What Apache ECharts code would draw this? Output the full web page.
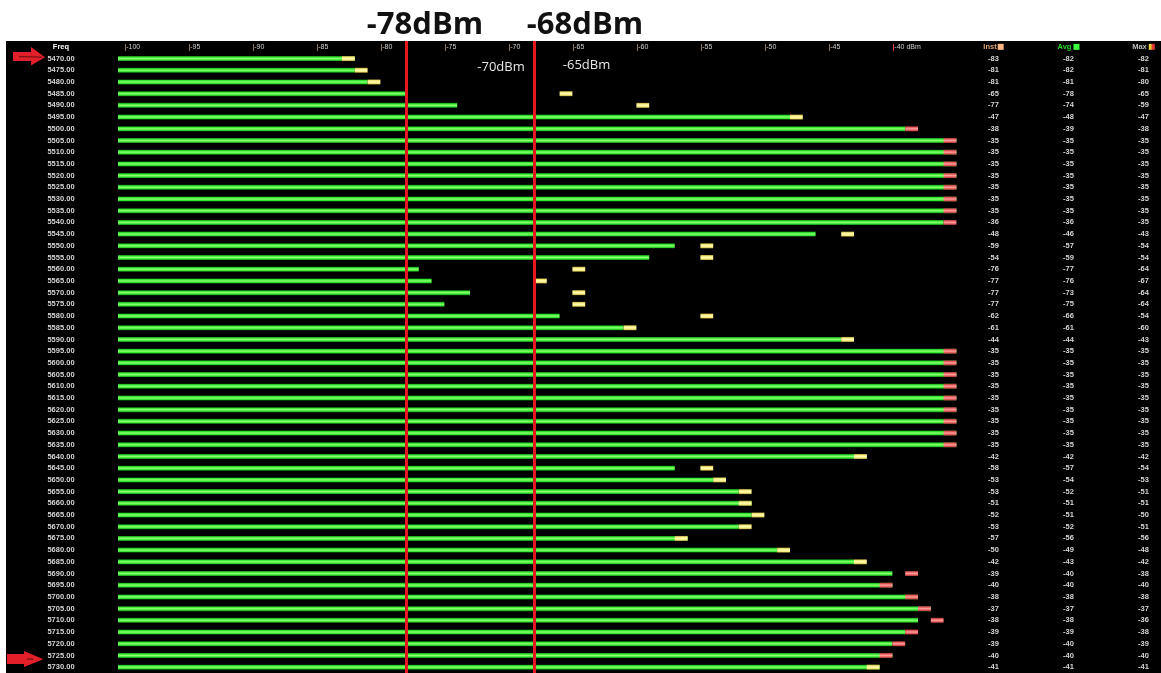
<!DOCTYPE html>
<html>
<head>
<meta charset="utf-8">
<script src="https://cdn.jsdelivr.net/npm/echarts@6/dist/echarts.min.js"></script>
<style>
  html, body { margin: 0; padding: 0; background: #ffffff; }
  #chart { width: 1161px; height: 673px; }
</style>
</head>
<body>
<div id="chart"></div>
<script>
// Channel frequencies (MHz), one row per channel
const FREQS = [
  '5470.00', '5475.00', '5480.00', '5485.00', '5490.00', '5495.00', '5500.00',
  '5505.00', '5510.00', '5515.00', '5520.00', '5525.00', '5530.00', '5535.00', '5540.00',
  '5545.00', '5550.00', '5555.00', '5560.00', '5565.00', '5570.00', '5575.00', '5580.00', '5585.00', '5590.00',
  '5595.00', '5600.00', '5605.00', '5610.00', '5615.00', '5620.00', '5625.00', '5630.00', '5635.00',
  '5640.00', '5645.00', '5650.00', '5655.00', '5660.00', '5665.00', '5670.00', '5675.00', '5680.00',
  '5685.00', '5690.00', '5695.00', '5700.00', '5705.00', '5710.00', '5715.00', '5720.00', '5725.00', '5730.00'
];

// Instantaneous level (dBm)
const INST = [
  -83, -81, -81, -65, -77, -47, -38,
  -35, -35, -35, -35, -35, -35, -35, -36,
  -48, -59, -54, -76, -77, -77, -77, -62, -61, -44,
  -35, -35, -35, -35, -35, -35, -35, -35, -35,
  -42, -58, -53, -53, -51, -52, -53, -57, -50,
  -42, -39, -40, -38, -37, -38, -39, -39, -40, -41
];

// Average level (dBm) – drawn as the green bar
const AVG = [
  -82, -82, -81, -78, -74, -48, -39,
  -35, -35, -35, -35, -35, -35, -35, -36,
  -46, -57, -59, -77, -76, -73, -75, -66, -61, -44,
  -35, -35, -35, -35, -35, -35, -35, -35, -35,
  -42, -57, -54, -52, -51, -51, -52, -56, -49,
  -43, -40, -40, -38, -37, -38, -39, -40, -40, -41
];

// Peak-hold level (dBm) – drawn as the short max marker
const MAX = [
  -82, -81, -80, -65, -59, -47, -38,
  -35, -35, -35, -35, -35, -35, -35, -35,
  -43, -54, -54, -64, -67, -64, -64, -54, -60, -43,
  -35, -35, -35, -35, -35, -35, -35, -35, -35,
  -42, -54, -53, -51, -51, -50, -51, -56, -48,
  -42, -38, -40, -38, -37, -36, -38, -39, -40, -41
];

// Level scale tick labels (dBm)
const X_TICKS = [-100, -95, -90, -85, -80, -75, -70, -65, -60, -55, -50, -45, -40];

// Threshold lines (dBm)
const THRESHOLDS = [-78, -68];

// Extra level notes written on the plot
const NOTES = ['-70dBm', '-65dBm'];

// ---- layout / style constants ----
const AXIS_MIN = -100.5;
const AXIS_MAX = -33.5;
const MARKER_SPAN = 1;       // width of the peak marker, dB
const HOT_LEVEL = -40;       // peaks at or above this are drawn red
const LABEL_FONT = 'Liberation Sans, Arial, sans-serif';
const THRESHOLD_LABEL_SHIFT = [[19, 3], [51, 3]];  // caption placement beside each line

const categories = ['Freq'].concat(FREQS);
const rows = FREQS.map((f, i) => [f, AVG[i], MAX[i]]);

const G = echarts.graphic;
const greenFill = new G.LinearGradient(0, 0, 0, 1, [
  { offset: 0, color: '#0f7412' },
  { offset: 0.2, color: '#2fe62f' },
  { offset: 0.5, color: '#8dff6e' },
  { offset: 0.8, color: '#2fe62f' },
  { offset: 1, color: '#0f7412' }
]);
const yellowFill = new G.LinearGradient(0, 0, 0, 1, [
  { offset: 0, color: '#a89436' },
  { offset: 0.22, color: '#f6ea7a' },
  { offset: 0.5, color: '#fffbb4' },
  { offset: 0.78, color: '#f6ea7a' },
  { offset: 1, color: '#a89436' }
]);
const redFill = new G.LinearGradient(0, 0, 0, 1, [
  { offset: 0, color: '#a03434' },
  { offset: 0.22, color: '#e85c5c' },
  { offset: 0.5, color: '#ff9e9e' },
  { offset: 0.78, color: '#e85c5c' },
  { offset: 1, color: '#a03434' }
]);

function renderRow(params, api) {
  const row = api.value(0);
  const avg = api.value(1);
  const max = api.value(2);
  const start = api.coord([AXIS_MIN, row]);
  const avgEnd = api.coord([avg, row]);
  const mk0 = api.coord([max - MARKER_SPAN, row]);
  const mk1 = api.coord([max, row]);
  const y = start[1];
  return {
    type: 'group',
    children: [
      {
        type: 'rect',
        shape: { x: start[0], y: y - 2.5, width: avgEnd[0] - start[0], height: 5 },
        style: { fill: greenFill }
      },
      {
        type: 'rect',
        shape: { x: mk0[0], y: y - 2.5, width: mk1[0] - mk0[0], height: 5 },
        style: { fill: max >= HOT_LEVEL ? redFill : yellowFill }
      }
    ]
  };
}

function tableAxis(title, values, margin, rich) {
  return {
    type: 'category',
    data: categories,
    inverse: true,
    position: 'right',
    axisLine: { show: false },
    axisTick: { show: false },
    splitLine: { show: false },
    axisLabel: {
      interval: 0,
      margin: margin,
      align: 'center',
      fontFamily: LABEL_FONT,
      fontSize: 7.5,
      fontWeight: 'bold',
      color: '#d6d6d6',
      formatter: (v, i) => (i === 0 ? title : String(values[i - 1])),
      rich: rich
    }
  };
}

const chart = echarts.init(document.getElementById('chart'), null, { renderer: 'canvas' });

chart.setOption({
  animation: false,
  backgroundColor: '#ffffff',
  textStyle: { fontFamily: LABEL_FONT },
  grid: { left: 118, right: 185.4, top: 41, bottom: -4.66 },
  xAxis: {
    type: 'value',
    position: 'top',
    min: AXIS_MIN,
    max: AXIS_MAX,
    axisLine: { show: false },
    axisTick: { show: false },
    splitLine: { show: false },
    axisLabel: {
      inside: true,
      margin: 6,
      align: 'left',
      verticalAlign: 'middle',
      customValues: X_TICKS,
      fontFamily: LABEL_FONT,
      fontSize: 7,
      color: '#cfcfcf',
      formatter: v => (v === -40 ? '{r||}{t|-40 dBm}' : '{b||}{t|' + v + '}'),
      rich: {
        b: { color: '#e6c3a0', fontSize: 7, fontFamily: LABEL_FONT },
        r: { color: '#ff4040', fontSize: 7, fontFamily: LABEL_FONT, fontWeight: 'bold' },
        t: { color: '#cfcfcf', fontSize: 7, fontFamily: LABEL_FONT }
      }
    }
  },
  yAxis: [
    {
      type: 'category',
      data: categories,
      inverse: true,
      axisLine: { show: false },
      axisTick: { show: false },
      splitLine: { show: false },
      axisLabel: {
        interval: 0,
        margin: 57,
        align: 'center',
        fontFamily: LABEL_FONT,
        fontSize: 7.5,
        fontWeight: 'bold',
        color: '#d6d6d6',
        formatter: (v, i) => (i === 0 ? '{h|' + v + '}' : v),
        rich: { h: { color: '#ffffff', fontSize: 7.5, fontWeight: 'bold', fontFamily: LABEL_FONT } }
      }
    },
    tableAxis('{h|Inst}{s| }', INST, 17.9, {
      h: { color: '#e0a574', fontSize: 7.5, fontWeight: 'bold', fontFamily: LABEL_FONT, padding: [0, 1, 0, 0] },
      s: { width: 6, height: 6, backgroundColor: '#ffb583', fontSize: 6 }
    }),
    tableAxis('{h|Avg}{s| }', AVG, 92.9, {
      h: { color: '#22d822', fontSize: 7.5, fontWeight: 'bold', fontFamily: LABEL_FONT, padding: [0, 2, 0, 0] },
      s: { width: 6, height: 6, backgroundColor: '#3cff3c', fontSize: 6 }
    }),
    tableAxis('{h|Max}{y| }{r| }', MAX, 167.9, {
      h: { color: '#bdbdbd', fontSize: 7.5, fontWeight: 'bold', fontFamily: LABEL_FONT, padding: [0, 2, 0, 0] },
      y: { width: 3, height: 6, backgroundColor: '#f2cf3a', fontSize: 6 },
      r: { width: 3, height: 6, backgroundColor: '#e8372e', fontSize: 6 }
    })
  ],
  graphic: [
    // black instrument panel behind the table and bars
    { type: 'rect', left: 6, top: 41, shape: { width: 1155, height: 632 }, style: { fill: '#000000' }, z: -10, silent: true },
    // notes on the level scale
    { type: 'text', x: 501, y: 67, style: { text: NOTES[0], fill: '#e6e6e6', font: '13px "Open Sans", sans-serif', align: 'center', verticalAlign: 'middle' }, z: 10 },
    { type: 'text', x: 586.5, y: 65, style: { text: NOTES[1], fill: '#e6e6e6', font: '13px "Open Sans", sans-serif', align: 'center', verticalAlign: 'middle' }, z: 10 },
    // pointer arrows at the band edges
    { type: 'polygon', shape: { points: [[13, 52], [31, 52], [31, 47], [45, 57.3], [31, 65.5], [31, 61], [13, 61]] }, style: { fill: '#e3202a' }, z: 10 },
    { type: 'line', shape: { x1: 19, y1: 56.7, x2: 42, y2: 57.1 }, style: { stroke: '#5a1010', lineWidth: 1 }, z: 11 },
    { type: 'polygon', shape: { points: [[7, 654], [24, 654], [24, 651], [43.3, 659.2], [24, 667], [24, 664], [7, 664]] }, style: { fill: '#e3202a' }, z: 10 },
    { type: 'line', shape: { x1: 27, y1: 659, x2: 33, y2: 659.2 }, style: { stroke: '#5a1010', lineWidth: 1.2 }, z: 11 }
  ],
  series: [
    {
      type: 'custom',
      xAxisIndex: 0,
      yAxisIndex: 0,
      encode: { x: [1, 2], y: 0 },
      data: rows,
      renderItem: renderRow,
      clip: false,
      silent: true,
      z: 2,
      markLine: {
        silent: true,
        symbol: ['none', 'none'],
        z: 5,
        lineStyle: { color: '#e3191f', width: 3, type: 'solid', opacity: 1 },
        label: {
          show: true,
          position: 'start',
          distance: 3,
          color: '#111111',
          fontFamily: '"Open Sans", sans-serif',
          fontWeight: 'bold',
          fontSize: 31,
          formatter: p => p.value + 'dBm'
        },
        emphasis: { disabled: true },
        data: THRESHOLDS.map((v, i) => ({ xAxis: v, label: { offset: THRESHOLD_LABEL_SHIFT[i] } }))
      }
    }
  ]
});
</script>
</body>
</html>
